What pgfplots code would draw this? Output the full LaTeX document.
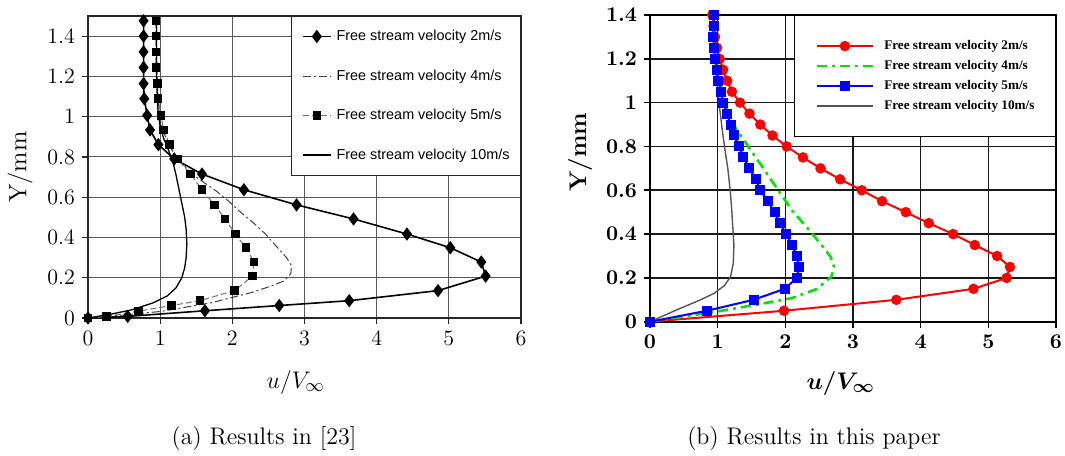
\documentclass[border=0pt]{standalone}
\usepackage{fontspec}
\usepackage{amsmath}
\usepackage{bm}
\usepackage{pgfplots}
\pgfplotsset{compat=1.18}
\newfontfamily\sansf{Liberation Sans}
\newfontfamily\timesf{Liberation Serif}
\definecolor{mygreen}{RGB}{0,225,0}
\definecolor{mygray}{RGB}{85,85,85}
\pgfplotsset{
  base/.style={
    scale only axis, xmin=0, xmax=6, ymin=0,
    xtick={0,1,2,3,4,5,6},
    ytick={0,0.2,0.4,0.6,0.8,1,1.2,1.4},
    grid=major, tick align=outside, xtick pos=bottom, ytick pos=left,
    major tick length=3pt,
    /pgf/number format/assume math mode=true,
    yticklabel style={/pgf/number format/fixed,/pgf/number format/precision=1},
    legend cell align=left,
  }
}
\begin{document}
\begin{tikzpicture}
\useasboundingbox (0,0) rectangle (532.5pt,-227.5pt);
% ---------------- (a) ----------------
\begin{axis}[base,
  at={(44pt,-159pt)}, anchor=south west,
  width=216.5pt, height=151pt, ymax=1.5,
  axis line style={black!85, line width=0.6pt},
  major grid style={black!65, line width=0.5pt},
  tick style={black!85, line width=0.6pt},
  ticklabel style={font=\fontsize{11}{13}\selectfont},
  xlabel={$u/V_\infty$},
  xlabel style={font=\fontsize{13}{15}\selectfont, at={(axis description cs:0.48,-0.212)}, anchor=center},
  ylabel={Y/mm},
  ylabel style={font=\fontsize{12.5}{14}\selectfont, at={(axis description cs:-0.157,0.5)}, anchor=center},
  legend style={at={(1,1)}, anchor=north east, draw=black!85, line width=0.5pt,
    font=\fontsize{7.2}{8}\sansf, inner xsep=5.5pt, inner ysep=6.5pt, row sep=12.75pt,
    column sep=2.5pt, nodes={inner sep=0pt, text height=5.5pt, text depth=1.5pt}},
  legend image code/.code={\draw[mark repeat=2,mark phase=2] plot coordinates {(0pt,0pt) (7pt,0pt) (14pt,0pt)};},
]
\addplot[black, line width=0.8pt, mark=diamond*, mark size=2.7pt, mark options={solid, fill=black}] coordinates {
(0,0) (0.55,0.008) (1.62,0.036) (2.65,0.062) (3.62,0.086) (4.85,0.136) (5.51,0.208) (5.45,0.278) (5.02,0.349) (4.42,0.417) (3.68,0.492) (2.89,0.562) (2.16,0.637) (1.58,0.715) (1.195,0.790) (0.975,0.861) (0.86,0.934) (0.82,1.006) (0.78,1.089) (0.77,1.164) (0.77,1.244) (0.77,1.322) (0.77,1.40) (0.77,1.476)};
\addlegendentry{Free stream velocity 2m/s}
\addplot[black!75, line width=0.5pt, dash pattern=on 4pt off 1.5pt on 1pt off 1.5pt] coordinates {
(0,0) (0.5,0.015) (1.02,0.033) (1.7,0.075) (2.25,0.125) (2.55,0.16) (2.72,0.185) (2.81,0.22) (2.82,0.26) (2.75,0.3) (2.6,0.36) (2.45,0.42) (2.3,0.47) (2.1,0.53) (1.95,0.58) (1.78,0.63) (1.62,0.67) (1.5,0.7) (1.35,0.75) (1.22,0.8) (1.12,0.86) (1.04,0.93) (0.99,1.0) (0.97,1.1) (0.96,1.2) (0.95,1.3) (0.95,1.5)};
\addlegendentry{Free stream velocity 4m/s}
\addplot[black!55, line width=0.5pt, dash pattern=on 3pt off 1.5pt, mark=square*, mark size=1.9pt, mark options={solid, fill=black, draw=black}] coordinates {
(0,0) (0.26,0.008) (0.70,0.034) (1.16,0.062) (1.55,0.086) (2.03,0.136) (2.28,0.208) (2.30,0.278) (2.19,0.349) (2.04,0.417) (1.90,0.492) (1.75,0.562) (1.58,0.637) (1.42,0.715) (1.24,0.790) (1.13,0.861) (1.05,0.934) (1.01,1.006) (0.97,1.089) (0.96,1.164) (0.94,1.244) (0.94,1.322) (0.94,1.40) (0.94,1.476)};
\addlegendentry{Free stream velocity 5m/s}
\addplot[black, line width=0.65pt] coordinates {
(0,0) (0.3,0.018) (0.6,0.04) (0.9,0.075) (1.1,0.11) (1.22,0.15) (1.3,0.2) (1.34,0.25) (1.36,0.3) (1.37,0.37) (1.36,0.44) (1.34,0.5) (1.3,0.57) (1.26,0.64) (1.22,0.71) (1.18,0.77) (1.12,0.83) (1.05,0.89) (1.0,0.95) (0.97,1.03) (0.96,1.1) (0.95,1.2) (0.95,1.5)};
\addlegendentry{Free stream velocity 10m/s}
\end{axis}
% ---------------- (b) ----------------
\begin{axis}[base,
  at={(325pt,-160.85pt)}, anchor=south west,
  width=203pt, height=153.35pt, ymax=1.4,
  axis line style={black, line width=1pt},
  major grid style={black!90, line width=0.8pt},
  tick style={black, line width=0.8pt},
  ticklabel style={font=\fontsize{10.5}{12}\selectfont\bfseries},
  xlabel={$\bm{u/V_\infty}$},
  xlabel style={font=\fontsize{13}{15}\selectfont, at={(axis description cs:0.47,-0.2)}, anchor=center},
  ylabel={\bfseries Y/mm},
  ylabel style={font=\fontsize{12}{14}\selectfont, at={(axis description cs:-0.172,0.553)}, anchor=center},
  legend style={at={(1,1)}, anchor=north east, draw=black, line width=0.6pt,
    font=\fontsize{6.6}{7}\timesf\bfseries, inner xsep=10.5pt, inner ysep=12pt, row sep=3.5pt,
    column sep=5pt, nodes={inner sep=0pt, text height=5pt, text depth=1.5pt}},
  legend image code/.code={\draw[mark repeat=2,mark phase=2] plot coordinates {(0pt,0pt) (14pt,0pt) (28pt,0pt)};},
]
\addplot[red, line width=1pt, mark=*, mark size=2.1pt, mark options={solid, fill=red}] coordinates {
(0,0) (1.98,0.05) (3.64,0.1) (4.78,0.15) (5.27,0.2) (5.32,0.25) (5.13,0.3) (4.80,0.35) (4.48,0.4) (4.12,0.45) (3.78,0.5) (3.43,0.55) (3.13,0.6) (2.81,0.65) (2.52,0.7) (2.26,0.75) (2.02,0.8) (1.81,0.85) (1.63,0.9) (1.47,0.95) (1.33,1.0) (1.21,1.05) (1.14,1.1) (1.08,1.15) (1.03,1.2) (0.99,1.25) (0.96,1.3) (0.94,1.35) (0.92,1.4)};
\addlegendentry{Free stream velocity 2m/s}
\addplot[mygreen, line width=1.3pt, dash pattern=on 5pt off 2.5pt on 1.5pt off 2.5pt] coordinates {
(0,0) (0.98,0.046) (1.56,0.077) (2.1,0.108) (2.47,0.15) (2.68,0.205) (2.72,0.25) (2.67,0.296) (2.52,0.356) (2.32,0.43) (2.12,0.5) (1.93,0.584) (1.73,0.675) (1.43,0.81) (1.23,0.9) (1.1,1.0) (1.03,1.1) (0.98,1.2) (0.95,1.3) (0.94,1.4)};
\addlegendentry{Free stream velocity 4m/s}
\addplot[blue, line width=1pt, mark=square*, mark size=2pt, mark options={solid, fill=blue}] coordinates {
(0,0) (0.84,0.05) (1.53,0.1) (1.99,0.15) (2.17,0.2) (2.20,0.25) (2.17,0.3) (2.10,0.35) (2.01,0.4) (1.92,0.45) (1.84,0.5) (1.74,0.55) (1.63,0.6) (1.56,0.65) (1.47,0.7) (1.38,0.75) (1.32,0.8) (1.24,0.85) (1.19,0.9) (1.14,0.95) (1.08,1.0) (1.05,1.05) (1.01,1.1) (0.99,1.15) (0.96,1.2) (0.95,1.25) (0.93,1.3) (0.94,1.35) (0.95,1.4)};
\addlegendentry{Free stream velocity 5m/s}
\addplot[mygray, line width=0.7pt] coordinates {
(0,0) (0.44,0.06) (0.74,0.099) (0.95,0.13) (1.1,0.165) (1.19,0.205) (1.23,0.265) (1.24,0.35) (1.23,0.4) (1.21,0.5) (1.19,0.584) (1.15,0.7) (1.11,0.78) (1.07,0.87) (1.04,0.948) (1.0,1.05) (0.97,1.15) (0.95,1.25) (0.93,1.4)};
\addlegendentry{Free stream velocity 10m/s}
\end{axis}
% captions
\node[font=\fontsize{12}{14}\selectfont, anchor=center] at (132pt,-219.5pt) {(a) Results in [23]};
\node[font=\fontsize{12}{14}\selectfont, anchor=center] at (407pt,-219.5pt) {(b) Results in this paper};
\end{tikzpicture}
\end{document}
